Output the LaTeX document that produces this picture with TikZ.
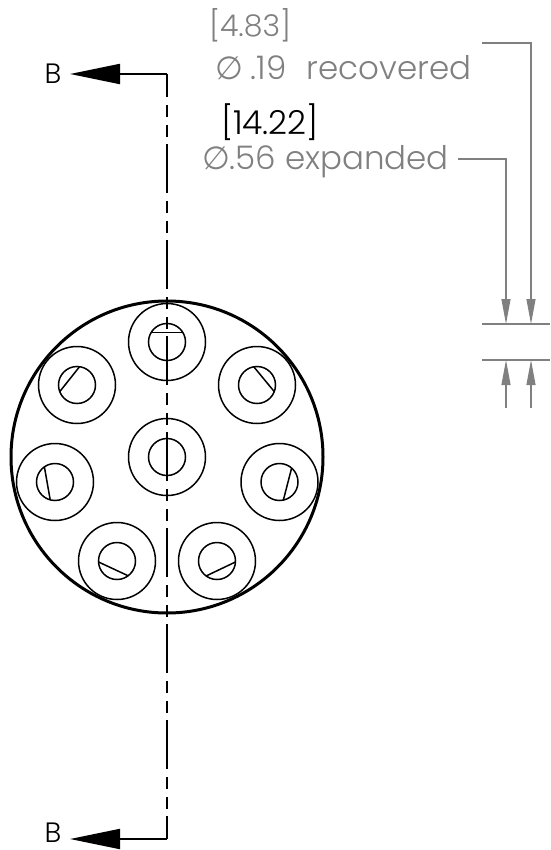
\documentclass[tikz,border=0pt]{standalone}
\usepackage{fontspec}
\setmainfont{Poppins Light}
\newfontfamily\symfont{DejaVu Sans}
\usetikzlibrary{arrows.meta}
\definecolor{dimgray}{HTML}{808080}

\begin{document}
\begin{tikzpicture}[
		x=1pt, y=-1pt,
		every node/.style={inner sep=0pt, outer sep=0pt},
		body/.style = {draw, circle, line width=3pt, minimum size=312pt},
		ring/.style = {draw, circle, line width=1.5pt, minimum size=77pt},
		hole/.style = {draw, circle, line width=1.5pt, minimum size=37pt},
		flat/.style = {line width=1.5pt},
		cut/.style = {line width=2.4pt, dash pattern=on 49pt off 8pt on 12pt off 8pt on 12pt off 7pt, dash phase=26pt},
		view/.style = {line width=2pt, -{Triangle[length=50pt, width=20pt]}},
		dim/.style = {dimgray, line width=1.1pt},
		dimarrow/.style = {dim, -{Triangle[length=25pt, width=9pt]}},
		graytext/.style = {dimgray, anchor=base west},
		blacktext/.style = {black, anchor=base west},
		letter/.style = {font=\fontsize{28}{32}\selectfont}
	]
	\useasboundingbox (0,0) rectangle (550,850);

	% ports
	\node(body)[body] at (167,457) {};

	\node(ringT)[ring] at (167,342) {};
	\node(ringUL)[ring] at (77,385) {};
	\node(ringUR)[ring] at (257,385) {};
	\node(ringC)[ring] at (167,457) {};
	\node(ringL)[ring] at (55,482) {};
	\node(ringR)[ring] at (279.5,482) {};
	\node(ringBL)[ring] at (117,561) {};
	\node(ringBR)[ring] at (217,561) {};

	\node(holeT)[hole] at (ringT) {};
	\node(holeUL)[hole] at (ringUL) {};
	\node(holeUR)[hole] at (ringUR) {};
	\node(holeC)[hole] at (ringC) {};
	\node(holeL)[hole] at (ringL) {};
	\node(holeR)[hole] at (ringR) {};
	\node(holeBL)[hole] at (ringBL) {};
	\node(holeBR)[hole] at (ringBR) {};

	\draw[flat] (holeT.149) -- (holeT.31);
	\draw[flat] (holeUL.82) -- (holeUL.201);
	\draw[flat] (holeUR.100) -- (holeUR.-21);
	\draw[flat] (holeL.125) -- (holeL.255);
	\draw[flat] (holeR.49) -- (holeR.-78);
	\draw[flat] (holeBL.183) -- (holeBL.-53);
	\draw[flat] (holeBR.234) -- (holeBR.-3);

	% section line
	\node(bTop)[letter] at (53,73.5) {B};
	\node(bBot)[letter] at (53,833) {B};
	\coordinate(cutTop) at (167,74);
	\coordinate(cutBot) at (167,839);
	\coordinate(tipTop) at (70,74);
	\coordinate(tipBot) at (70,839);

	\draw[cut] (cutTop) -- (cutBot);
	\draw[view] (cutTop) -- (tipTop);
	\draw[view] (cutBot) -- (tipBot);

	% dimensions
	\node(metricA)[graytext, font=\fontsize{30}{34}\selectfont] at (209,37) {[4.83]};
	\node(sizeA)[graytext, font=\fontsize{32.5}{37}\selectfont] at (215,80) {{\symfont\fontsize{32}{36}\selectfont ∅}\hspace{8pt}.19\hspace{11pt} recovered};
	\node(metricB)[blacktext, font=\fontsize{33}{38}\selectfont] at (221,135) {[14.22]};
	\node(sizeB)[graytext, font=\fontsize{32.5}{37}\selectfont] at (202,170) {{\symfont\fontsize{32}{36}\selectfont ∅}.56 expanded};

	\coordinate(leadA) at (482,43);
	\coordinate(leadB) at (458,159);
	\coordinate(extUL) at (482,324);
	\coordinate(extUR) at (550,324);
	\coordinate(extLL) at (482,360);
	\coordinate(extLR) at (550,360);
	\coordinate(tipUA) at (531,324);
	\coordinate(tipUB) at (506,324);
	\coordinate(tipLA) at (531,360);
	\coordinate(tipLB) at (506,360);
	\coordinate(tailA) at (531,408);
	\coordinate(tailB) at (506,408);

	\draw[dim] (extUL) -- (extUR);
	\draw[dim] (extLL) -- (extLR);
	\draw[dimarrow] (leadA) -| (tipUA);
	\draw[dimarrow] (leadB) -| (tipUB);
	\draw[dimarrow] (tailA) -- (tipLA);
	\draw[dimarrow] (tailB) -- (tipLB);
\end{tikzpicture}
\end{document}
